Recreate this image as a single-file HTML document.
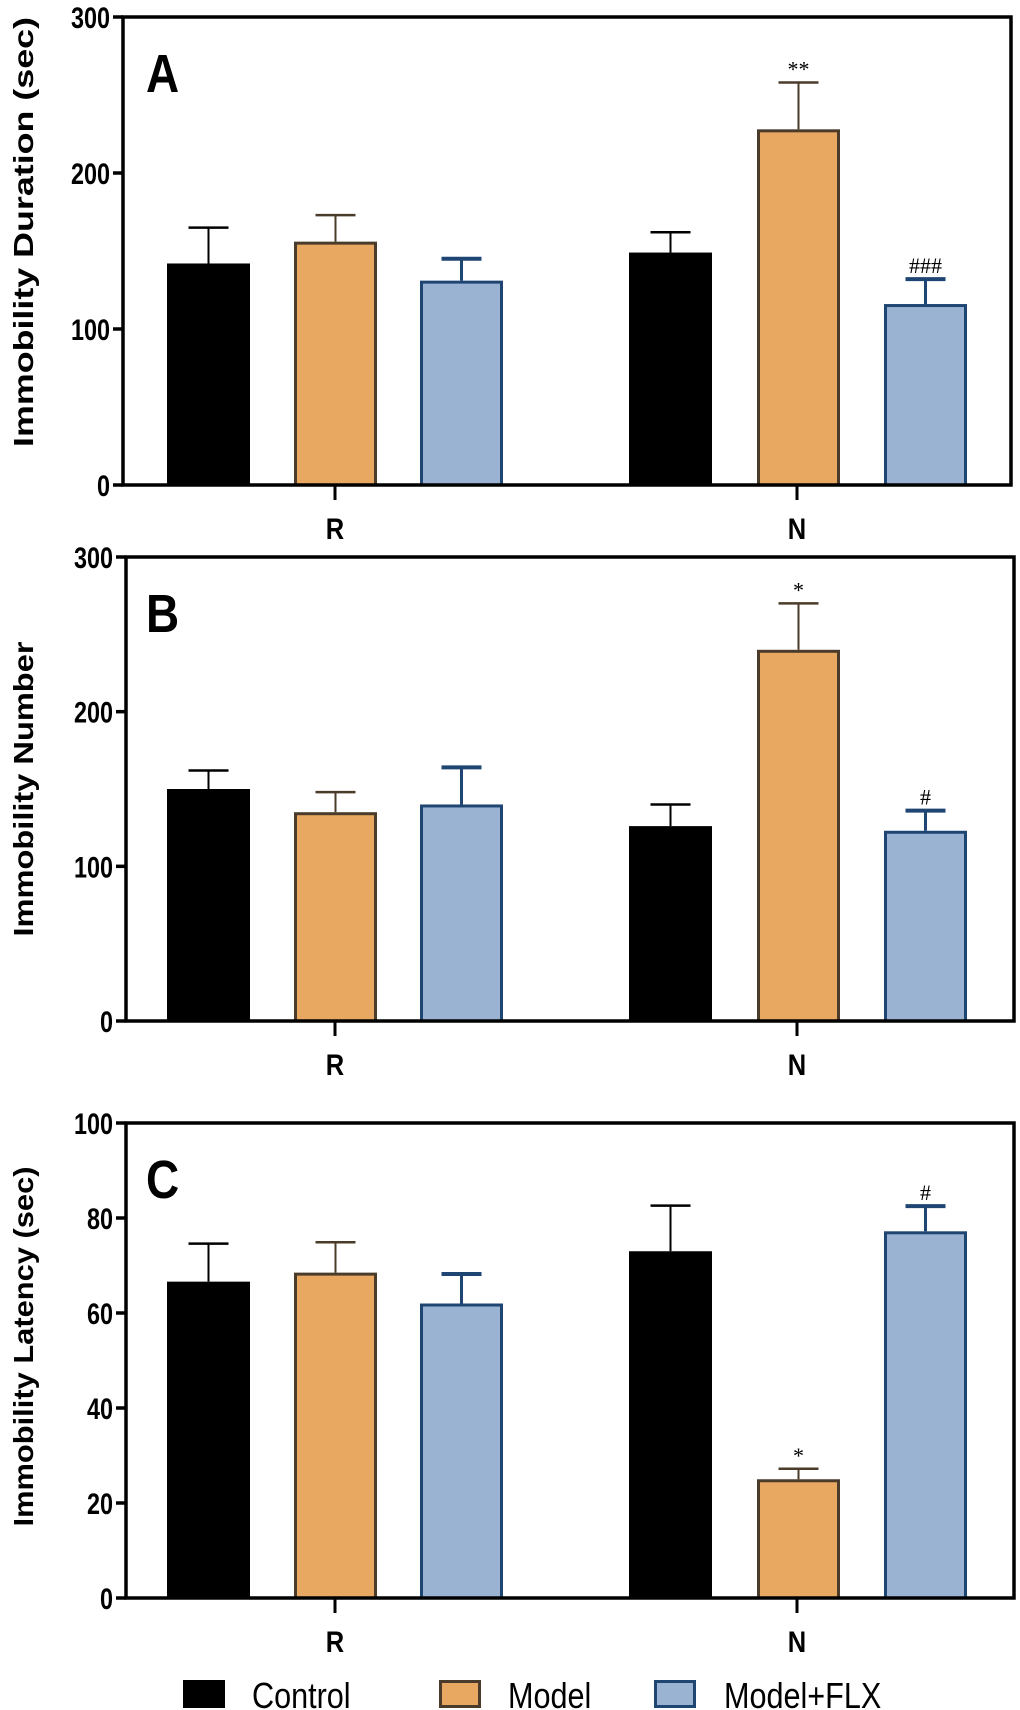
<!DOCTYPE html>
<html><head><meta charset="utf-8"><style>
html,body{margin:0;padding:0;background:#fff;}
svg{display:block;font-family:"Liberation Sans",Arial,sans-serif;}
</style></head><body>
<svg id="chart" width="1020" height="1710" viewBox="0 0 1020 1710" xmlns="http://www.w3.org/2000/svg"></svg>
<script>
const groups = ["R","N"];
const seriesNames = ["Control","Model","Model+FLX"];
const aMeans = [[142,149],[156,228],[131,116]];
const aErrs  = [[165,162],[173,258],[145,132]];
const bMeans = [[150,126],[135,240],[140,123]];
const bErrs  = [[162,140],[148,270],[164,136]];
const cMeans = [[66.6,73],[68.5,25],[62,77.2]];
const cErrs  = [[74.6,82.6],[74.9,27.2],[68.2,82.5]];
const aTicks = [0,100,200,300];
const bTicks = [0,100,200,300];
const cTicks = [0,20,40,60,80,100];
const aMarks = [["",""],["","**"],["","###"]];
const bMarks = [["",""],["","*"],["","#"]];
const cMarks = [["",""],["","*"],["","#"]];

const NS="http://www.w3.org/2000/svg";
const svg=document.getElementById('chart');
const fills=["#000000","#E8A862","#9BB3D3"];
const strokes=["#000000","#4A3B2A","#1F4673"];
const barX=[[167,629],[294,757],[420,884]];
const barW=83;
function el(tag,attrs,parent){const e=document.createElementNS(NS,tag);for(const k in attrs)e.setAttribute(k,attrs[k]);(parent||svg).appendChild(e);return e;}

function panel(cfg){
  const g=el('g',{});
  
  
  const max=cfg.ticks[cfg.ticks.length-1];
  const y=v=>cfg.y0-(v/max)*(cfg.y0-cfg.yTop);
  for(let s=0;s<3;s++){
    for(let gi=0;gi<2;gi++){
      const x=barX[s][gi];
      const top=y(cfg.means[s][gi]);
      const et=y(cfg.errs[s][gi]);
      const sw=s===0?1:3;
      const ln=el('line',{x1:x+barW/2,x2:x+barW/2,y1:top,y2:et,stroke:strokes[s],'stroke-width':s===2?3:2},g);
      
      
      const cap=el('line',{x1:x+barW/2-20,x2:x+barW/2+20,y1:et,y2:et,stroke:strokes[s],'stroke-width':s===2?4:2.5},g);
      
      
      const r=el('rect',{x:x+sw/2,y:top+sw/2,width:barW-sw,height:cfg.y0-top-sw/2,fill:fills[s],stroke:strokes[s],'stroke-width':sw},g);
      
      
      const m=cfg.marks[s][gi];
      if(m){
        const t=el('text',{x:x+barW/2,y:et-6,'text-anchor':'middle','font-size':22,'font-family':'"Liberation Serif",serif',fill:'#000'},g);
        t.textContent=m;
        
        
      }
    }
  }
  const fr=el('rect',{x:cfg.xL,y:cfg.yTop,width:cfg.xR-cfg.xL,height:cfg.y0-cfg.yTop,fill:'none',stroke:'#000','stroke-width':3.5},g);
  
  
  cfg.ticks.forEach(v=>{
    const yy=y(v);
    const tk=el('line',{x1:cfg.xL-10,x2:cfg.xL,y1:yy,y2:yy,stroke:'#000','stroke-width':3.5},g);
    
    
    const t=el('text',{x:0,y:0,'text-anchor':'end','font-size':30,'font-weight':'bold',transform:`translate(${cfg.xL-13},${yy+11}) scale(0.78,1)`},g);
    t.textContent=v;
    
    
  });
  const cx=[335,797];
  groups.forEach((gname,gi)=>{
    const tk=el('line',{x1:cx[gi],x2:cx[gi],y1:cfg.y0,y2:cfg.y0+15,stroke:'#000','stroke-width':3},g);
    
    
    const t=el('text',{x:0,y:0,'text-anchor':'middle','font-size':30,'font-weight':'bold',transform:`translate(${cx[gi]},${cfg.y0+54}) scale(0.85,1)`},g);
    t.textContent=gname;
    
    
  });
  const L=el('text',{x:0,y:0,'font-size':54,'font-weight':'bold',transform:`translate(146,${cfg.yTop+75}) scale(0.85,1)`},g);
  L.textContent=cfg.letter;
  
  
  const ym=(cfg.yTop+cfg.y0)/2+cfg.titleShift;
  const T=el('text',{x:0,y:0,'text-anchor':'middle','font-size':28,'font-weight':'bold',textLength:cfg.titleLen,lengthAdjust:'spacingAndGlyphs',transform:`translate(33,${ym}) rotate(-90)`},g);
  T.textContent=cfg.title;
  
  
}
panel({name:'panel-a',letter:'A',title:'Immobility Duration (sec)',titleLen:430,titleShift:-19,means:aMeans,errs:aErrs,marks:aMarks,ticks:aTicks,yTop:17,y0:485,xL:123,xR:1011});
panel({name:'panel-b',letter:'B',title:'Immobility Number',titleLen:295,titleShift:0,means:bMeans,errs:bErrs,marks:bMarks,ticks:bTicks,yTop:557,y0:1021,xL:126,xR:1014});
panel({name:'panel-c',letter:'C',title:'Immobility Latency (sec)',titleLen:360,titleShift:-14,means:cMeans,errs:cErrs,marks:cMarks,ticks:cTicks,yTop:1123,y0:1598,xL:126,xR:1014});

const lg=el('g',{});


const swX=[183,439,654], txX=[252,508,724];
seriesNames.forEach((n,i)=>{
  const sw=i===0?0:3;
  const r=el('rect',{x:swX[i]+sw/2,y:1680+sw/2,width:42-sw,height:28-sw,fill:fills[i],stroke:strokes[i],'stroke-width':sw||0},lg);
  
  
  const t=el('text',{x:0,y:0,'font-size':36,transform:`translate(${txX[i]},${1708}) scale(0.85,1)`},lg);
  t.textContent=n;
  
  
});
</script>
</body></html>
